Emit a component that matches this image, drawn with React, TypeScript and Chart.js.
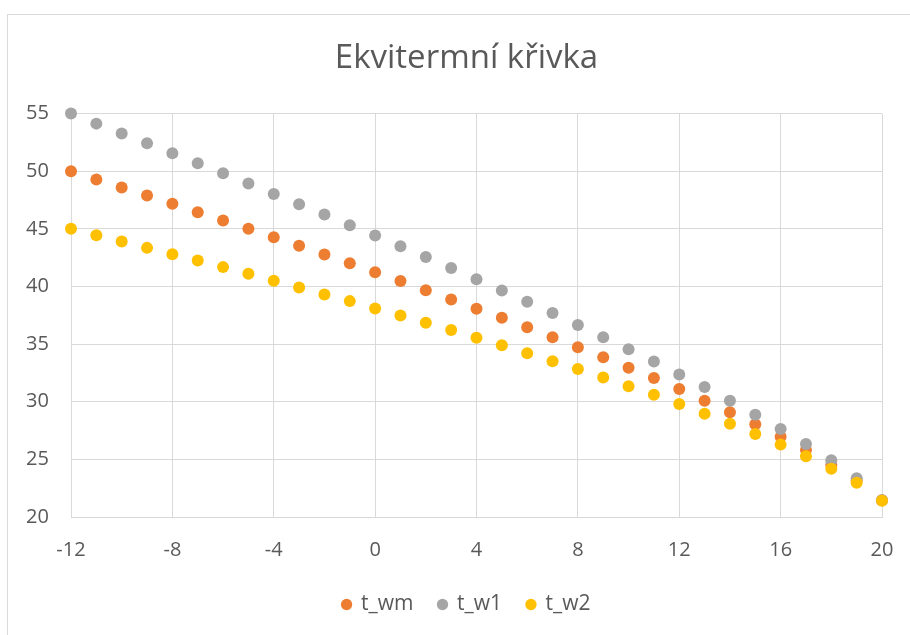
import React, { useEffect, useRef } from "react";
import { Chart, registerables } from "chart.js";

Chart.register(...registerables);

const outdoorTemps = [-12, -11, -10, -9, -8, -7, -6, -5, -4, -3, -2, -1, 0, 1, 2, 3, 4, 5, 6, 7, 8, 9, 10, 11, 12, 13, 14, 15, 16, 17, 18, 19, 20];

const tWm = [50.0, 49.28, 48.58, 47.89, 47.17, 46.45, 45.72, 45.0, 44.28, 43.53, 42.78, 42.02, 41.24, 40.47, 39.68, 38.88, 38.07, 37.29, 36.46, 35.59, 34.73, 33.86, 32.94, 32.05, 31.10, 30.09, 29.08, 28.04, 26.97, 25.82, 24.52, 23.14, 21.45];
const tW1 = [55.0, 54.13, 53.27, 52.43, 51.56, 50.69, 49.83, 48.93, 48.03, 47.14, 46.24, 45.32, 44.42, 43.50, 42.55, 41.61, 40.63, 39.65, 38.67, 37.69, 36.66, 35.59, 34.55, 33.49, 32.36, 31.27, 30.09, 28.88, 27.64, 26.34, 24.93, 23.37, 21.45];
const tW2 = [45.0, 44.45, 43.9, 43.35, 42.8, 42.25, 41.68, 41.1, 40.49, 39.91, 39.31, 38.73, 38.09, 37.49, 36.86, 36.23, 35.56, 34.90, 34.21, 33.52, 32.85, 32.10, 31.35, 30.61, 29.80, 28.96, 28.10, 27.20, 26.28, 25.27, 24.18, 22.97, 21.40];

const seriesNames = ["t_wm", "t_w1", "t_w2"];
const seriesColors = ["#ED7D31", "#A5A5A5", "#FFC000"];
const chartTitle = "Ekvitermní křivka";

const toPoints = (ys: number[]) => outdoorTemps.map((x, i) => ({ x, y: ys[i] }));

export default function App() {
  const ref = useRef<HTMLCanvasElement | null>(null);

  useEffect(() => {
    if (!ref.current) return;
    const all = [tWm, tW1, tW2];
    const chart = new Chart(ref.current, {
      type: "scatter",
      data: {
        datasets: all.map((ys, i) => ({
          label: seriesNames[i],
          data: toPoints(ys),
          backgroundColor: seriesColors[i],
          borderColor: seriesColors[i],
          borderWidth: 0,
          pointRadius: 6,
          pointHoverRadius: 6,
          order: 3 - i,
          clip: false as any,
        })),
      },
      options: {
        animation: false,
        responsive: false,
        maintainAspectRatio: false,
        layout: { padding: { top: 9, left: 51, right: 28, bottom: 10 } },
        plugins: {
          title: {
            display: true,
            text: chartTitle,
            color: "#595959",
            font: { family: "'Open Sans'", size: 33, weight: "normal" as any },
            padding: { top: 30, bottom: 35 },
          },
          legend: {
            position: "bottom",
            labels: {
              usePointStyle: true,
              pointStyle: "circle",
              boxWidth: 8,
              boxHeight: 8,
              color: "#595959",
              font: { family: "'Open Sans'", size: 21 },
              padding: 25,
              sort: (a: any, b: any) => a.datasetIndex - b.datasetIndex,
            },
          },
          tooltip: { enabled: false },
        },
        scales: {
          x: {
            type: "linear",
            min: -12,
            max: 20,
            ticks: {
              stepSize: 4,
              color: "#595959",
              font: { family: "'Open Sans'", size: 20 },
              padding: 21,
            },
            grid: { color: "#d9d9d9", lineWidth: 1, drawTicks: false },
            border: { color: "#d9d9d9", width: 1 },
            afterFit: (s: any) => { s.height = 52; s.paddingLeft = 0; s.paddingRight = 0; },
          },
          y: {
            type: "linear",
            min: 20,
            max: 55,
            ticks: {
              stepSize: 5,
              color: "#595959",
              font: { family: "'Open Sans'", size: 20 },
              mirror: true,
              padding: -45,
            },
            grid: { color: "#d9d9d9", lineWidth: 1, drawTicks: false },
            border: { display: false },
            afterFit: (s: any) => { s.width = 20; },
          },
        },
      },
    });
    return () => chart.destroy();
  }, []);

  return (
    <div style={{ position: "fixed", left: 0, top: 0, width: 910, height: 635, background: "#fff", overflow: "hidden" }}>
      <div style={{ position: "absolute", left: 7, top: 14, width: 1000, height: 700, borderLeft: "1px solid #d9d9d9", borderTop: "1px solid #d9d9d9" }} />
      <canvas ref={ref} width={910} height={635} style={{ position: "absolute", left: 0, top: 0 }} />
    </div>
  );
}
